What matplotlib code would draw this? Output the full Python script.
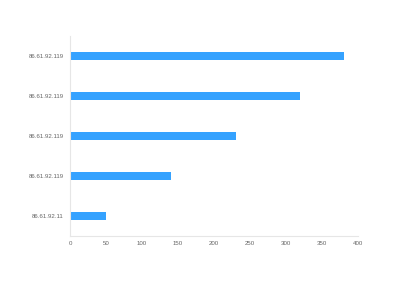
import matplotlib
matplotlib.use("Agg")
import matplotlib.pyplot as plt

plt.rcParams["font.family"] = ["Liberation Sans", "DejaVu Sans"]

categories = ["86.61.92.11", "86.61.92.119", "86.61.92.119", "86.61.92.119", "86.61.92.119"]
values = [50, 140, 230, 320, 380]
xticks = [0, 50, 100, 150, 200, 250, 300, 350, 400]

fig = plt.figure(figsize=(4, 3), dpi=100)
ax = fig.add_axes([0.175, 0.2150, 0.72, 0.6666])
pos = list(range(len(categories)))
ax.barh(pos, values, height=0.2, color="#35a2ff")
ax.set_yticks(pos)
ax.set_yticklabels(categories)
ax.set_ylim(-0.5, len(categories) - 0.5)
ax.set_xlim(0, 400)
ax.set_xticks(xticks)
for s in ["top", "right"]:
    ax.spines[s].set_visible(False)
for s in ["left", "bottom"]:
    ax.spines[s].set_color("#e6e6e6")
    ax.spines[s].set_linewidth(0.8)
ax.tick_params(axis="both", length=0, labelsize=4.4, labelcolor="#666666")
ax.tick_params(axis="y", pad=4.5)
ax.tick_params(axis="x", pad=4)
fig.savefig("out.png", dpi=100)
